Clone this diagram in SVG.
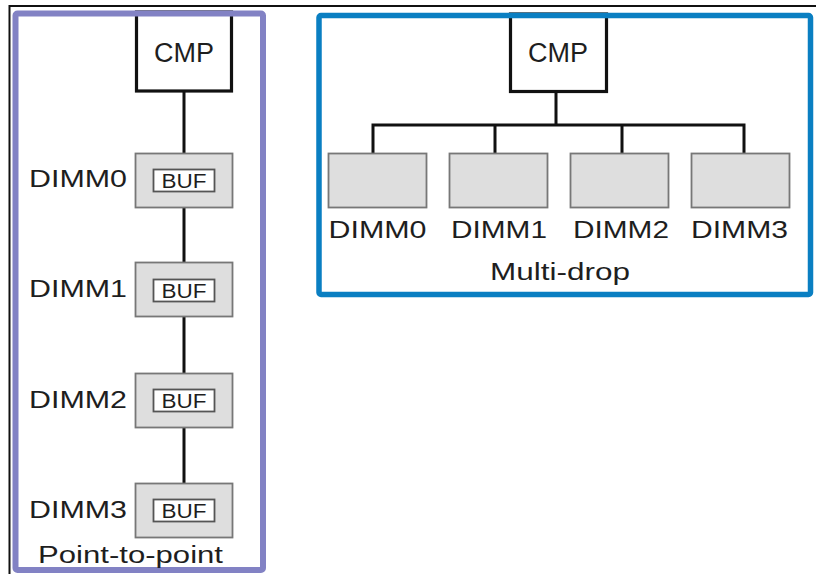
<svg xmlns="http://www.w3.org/2000/svg" width="816" height="574" viewBox="0 0 816 574">
<style>
text{font-family:"Liberation Sans",Arial,sans-serif;fill:#1e1e1e;}
.cmp{fill:#fff;stroke:#111;stroke-width:3.2;}
.dimm{fill:#dedede;stroke:#777;stroke-width:1.8;}
.buf{fill:#fff;stroke:#555;stroke-width:1.8;}
.wire{fill:none;stroke:#111;stroke-width:3;}
.lbl{font-size:24.5px;}
.cap{font-size:23.5px;}
.buft{font-size:20px;}
.cmpt{font-size:27px;}
</style>
<rect width="816" height="574" fill="#fff"/>
<path d="M9.5 574 V6 H816" fill="none" stroke="#111" stroke-width="2"/>

<g id="connectors">
<line class="wire" x1="184" y1="91" x2="184" y2="498"/>
<path class="wire" d="M556 91.5 V125 M373 153 V125 H744 V153 M495 125 V153 M622 125 V153"/>
</g>

<g id="p2p-cmp">
<rect class="cmp" x="136.5" y="12" width="95" height="79"/>
<text class="cmpt" x="184" y="62" text-anchor="middle" textLength="60" lengthAdjust="spacingAndGlyphs">CMP</text>
</g>
<g id="p2p-dimm0">
<rect class="dimm" x="135.5" y="153.5" width="97" height="54"/>
<rect class="buf" x="153.5" y="169.5" width="61" height="22"/>
<text class="buft" x="184" y="187.5" text-anchor="middle" textLength="45" lengthAdjust="spacingAndGlyphs">BUF</text>
<text class="lbl" x="127" y="187" text-anchor="end" textLength="98" lengthAdjust="spacingAndGlyphs">DIMM0</text>
</g>
<g id="p2p-dimm1">
<rect class="dimm" x="135.5" y="262.5" width="97" height="54"/>
<rect class="buf" x="153.5" y="279.5" width="61" height="22"/>
<text class="buft" x="184" y="297.5" text-anchor="middle" textLength="45" lengthAdjust="spacingAndGlyphs">BUF</text>
<text class="lbl" x="127" y="297" text-anchor="end" textLength="98" lengthAdjust="spacingAndGlyphs">DIMM1</text>
</g>
<g id="p2p-dimm2">
<rect class="dimm" x="135.5" y="373.5" width="97" height="54"/>
<rect class="buf" x="153.5" y="389.5" width="61" height="22"/>
<text class="buft" x="184" y="407.5" text-anchor="middle" textLength="45" lengthAdjust="spacingAndGlyphs">BUF</text>
<text class="lbl" x="127" y="408" text-anchor="end" textLength="98" lengthAdjust="spacingAndGlyphs">DIMM2</text>
</g>
<g id="p2p-dimm3">
<rect class="dimm" x="135.5" y="483.5" width="97" height="54"/>
<rect class="buf" x="153.5" y="499.5" width="61" height="22"/>
<text class="buft" x="184" y="517.5" text-anchor="middle" textLength="45" lengthAdjust="spacingAndGlyphs">BUF</text>
<text class="lbl" x="127" y="518" text-anchor="end" textLength="98" lengthAdjust="spacingAndGlyphs">DIMM3</text>
</g>
<g id="p2p-frame">
<rect x="15.5" y="13.5" width="247.5" height="556.5" rx="2" fill="none" stroke="#8282c4" stroke-width="6"/>
<text class="cap" x="38" y="563" textLength="185" lengthAdjust="spacingAndGlyphs">Point-to-point</text>
</g>

<g id="md-cmp">
<rect class="cmp" x="510.5" y="14" width="96" height="77.5"/>
<text class="cmpt" x="558" y="62" text-anchor="middle" textLength="60" lengthAdjust="spacingAndGlyphs">CMP</text>
</g>
<g id="md-dimm0">
<rect class="dimm" x="328.5" y="153.5" width="98" height="54"/>
<text class="lbl" x="377.5" y="238" text-anchor="middle" textLength="98" lengthAdjust="spacingAndGlyphs">DIMM0</text>
</g>
<g id="md-dimm1">
<rect class="dimm" x="449.5" y="153.5" width="98" height="54"/>
<text class="lbl" x="499" y="238" text-anchor="middle" textLength="96" lengthAdjust="spacingAndGlyphs">DIMM1</text>
</g>
<g id="md-dimm2">
<rect class="dimm" x="570.5" y="153.5" width="98" height="54"/>
<text class="lbl" x="621" y="238" text-anchor="middle" textLength="96" lengthAdjust="spacingAndGlyphs">DIMM2</text>
</g>
<g id="md-dimm3">
<rect class="dimm" x="691.5" y="153.5" width="98" height="54"/>
<text class="lbl" x="739.5" y="238" text-anchor="middle" textLength="97" lengthAdjust="spacingAndGlyphs">DIMM3</text>
</g>
<g id="md-frame">
<rect x="319" y="15.5" width="491.5" height="279" rx="2" fill="none" stroke="#0a7fc2" stroke-width="5.5"/>
<text class="cap" x="560" y="280" text-anchor="middle" textLength="140" lengthAdjust="spacingAndGlyphs">Multi-drop</text>
</g>
</svg>
